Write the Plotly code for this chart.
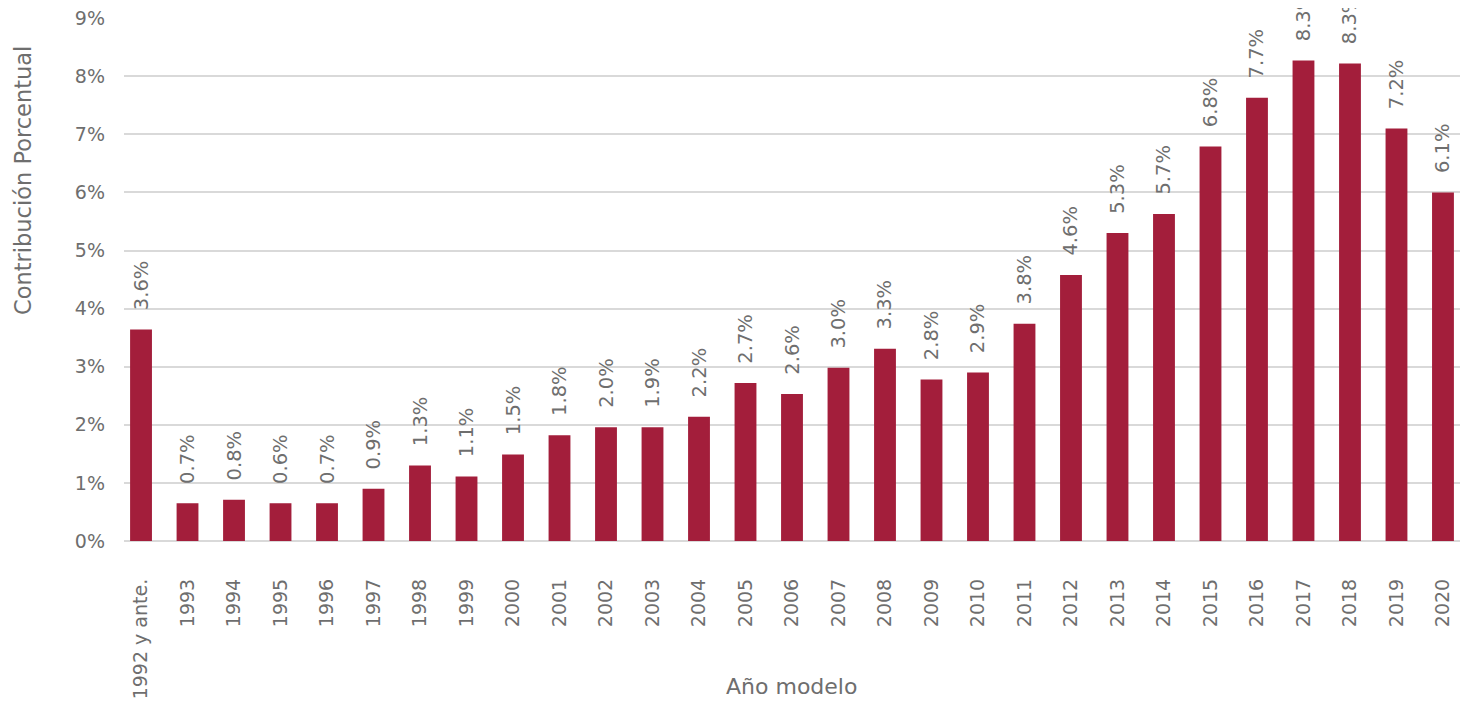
import plotly.graph_objects as go

categories = ["1992 y ante.", "1993", "1994", "1995", "1996", "1997", "1998", "1999",
              "2000", "2001", "2002", "2003", "2004", "2005", "2006", "2007", "2008",
              "2009", "2010", "2011", "2012", "2013", "2014", "2015", "2016", "2017",
              "2018", "2019", "2020"]
values = [3.64, 0.65, 0.71, 0.65, 0.65, 0.90, 1.30, 1.11, 1.49, 1.82, 1.96, 1.96, 2.14,
          2.72, 2.53, 2.98, 3.31, 2.78, 2.90, 3.74, 4.58, 5.30, 5.63, 6.79, 7.63, 8.27,
          8.22, 7.10, 6.00]
labels = ["3.6%", "0.7%", "0.8%", "0.6%", "0.7%", "0.9%", "1.3%", "1.1%", "1.5%", "1.8%",
          "2.0%", "1.9%", "2.2%", "2.7%", "2.6%", "3.0%", "3.3%", "2.8%", "2.9%", "3.8%",
          "4.6%", "5.3%", "5.7%", "6.8%", "7.7%", "8.3%", "8.3%", "7.2%", "6.1%"]
y_ticks = [0, 1, 2, 3, 4, 5, 6, 7, 8, 9]
y_tick_labels = ["0%", "1%", "2%", "3%", "4%", "5%", "6%", "7%", "8%", "9%"]

FONT = "DejaVu Sans"
GRAY = "#6E6E6E"
BAR = "#A31E3B"

# the page body adds an 8px offset; figure is sized to compensate
W, H = 1460, 698
ML, MR, MT, MB = 116, 8, 10, 165
PW, PH = W - ML - MR, H - MT - MB

fig = go.Figure(go.Bar(
    x=list(range(len(categories))),
    y=values,
    text=["\u00a0\u00a0\u2009" + t for t in labels],
    textposition="outside",
    textangle=-90,
    constraintext="none",
    cliponaxis=False,
    textfont=dict(family=FONT, size=19.5, color=GRAY),
    marker=dict(color=BAR, line=dict(width=0)),
    width=0.47,
    hoverinfo="skip",
))

fig.update_layout(
    width=W, height=H,
    margin=dict(l=ML, r=MR, t=MT, b=MB, pad=0),
    plot_bgcolor="white", paper_bgcolor="white",
    showlegend=False,
    font=dict(family=FONT, color=GRAY, size=19),
    xaxis=dict(
        tickmode="array",
        tickvals=list(range(len(categories))),
        ticktext=categories,
        tickangle=-90,
        range=[-0.366, 28.366],
        showgrid=False,
        zeroline=False,
        showline=False,
        ticks="",
        automargin=False,
        ticklabelstandoff=33,
        tickfont=dict(family=FONT, size=19, color=GRAY),
    ),
    yaxis=dict(
        range=[0, 9.002],
        tickmode="array",
        tickvals=y_ticks,
        ticktext=y_tick_labels,
        showgrid=True,
        gridcolor="#D9D9D9",
        gridwidth=1.5,
        zeroline=True,
        zerolinecolor="#D9D9D9",
        zerolinewidth=1.5,
        showline=False,
        ticks="",
        automargin=False,
        ticklabeloverflow="allow",
        ticklabelstandoff=18,
        tickfont=dict(family=FONT, size=19, color=GRAY),
    ),
    annotations=[
        dict(
            text="Contribución Porcentual",
            xref="paper", yref="paper",
            x=(0 - ML) / PW, y=(PH + MT - 173) / PH,
            xanchor="left", yanchor="middle",
            textangle=-90, showarrow=False,
            font=dict(family=FONT, size=22.5, color=GRAY),
        ),
        dict(
            text="Año modelo",
            xref="paper", yref="paper",
            x=(783 - ML) / PW, y=(PH + MT - 678) / PH,
            xanchor="center", yanchor="middle",
            showarrow=False,
            font=dict(family=FONT, size=22, color=GRAY),
        ),
    ],
)

fig.write_html("out.html")
